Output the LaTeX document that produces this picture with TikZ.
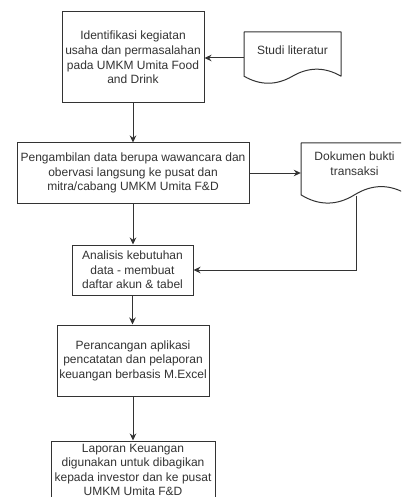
\documentclass[tikz,border=0pt]{standalone}
\usepackage{fontspec}
\setmainfont{Liberation Sans}
\usetikzlibrary{arrows.meta,calc}
\definecolor{ink}{HTML}{333333}
\definecolor{txt}{HTML}{333333}
\begin{document}
\begin{tikzpicture}[x=1pt,y=-1pt,
  box/.style={draw=ink,line width=1pt,fill=white,rectangle,inner sep=0pt,align=center,
    font=\fontsize{12}{14.6}\selectfont,text=txt},
  holder/.style={rectangle,inner sep=0pt,draw=none},
  lbl/.style={inner sep=0pt,align=center,font=\fontsize{12}{14.6}\selectfont,text=txt},
  docline/.style={draw=ink,line width=1pt,fill=white,line join=round},
  arr/.style={draw=ink,line width=1pt,-{Stealth[length=7pt,width=6.5pt]}}]
\useasboundingbox (0,0) rectangle (401,497);
\clip (0,0) rectangle (401,497);
\fill[white] (0,0) rectangle (401,497);

% boxes
\node[box,minimum width=142pt,minimum height=91pt] (b1) at (133,57.5)
  {Identifikasi kegiatan\\usaha dan permasalahan\\pada UMKM Umita Food\\and Drink};
\node[box,minimum width=232pt,minimum height=60pt] (b2) at (133,173)
  {Pengambilan data berupa wawancara dan\\obervasi langsung ke pusat dan\\mitra/cabang UMKM Umita F\&D};
\node[box,minimum width=121pt,minimum height=50pt] (b3) at (132.5,270)
  {Analisis kebutuhan\\data - membuat\\daftar akun \& tabel};
\node[box,minimum width=152pt,minimum height=71pt] (b4) at (133,360.5)
  {Perancangan aplikasi\\pencatatan dan pelaporan\\keuangan berbasis M.Excel};
\node[box,minimum width=164pt,minimum height=58pt,font=\fontsize{12}{14.2}\selectfont] (b5) at (133,470)
  {Laporan Keuangan\\digunakan untuk dibagikan\\kepada investor dan ke pusat\\UMKM Umita F\&D};

% document shape: Studi literatur
\draw[docline] (244,32) -- (341,32) -- (341,76.2)
  .. controls (324.83,66.84) and (308.67,66.84) .. (292.5,76.2)
  .. controls (276.33,85.56) and (260.17,85.56) .. (244,76.2) -- cycle;
\node[holder,minimum width=97pt,minimum height=52pt] (studi) at (292.5,58) {};
\node[lbl] (studitxt) at (292.5,50) {Studi literatur};

% document shape: Dokumen bukti transaksi
\draw[docline] (301,143) -- (408,143) -- (408,194.85)
  .. controls (390.17,183.87) and (372.33,183.87) .. (354.5,194.85)
  .. controls (336.67,205.83) and (318.83,205.83) .. (301,194.85) -- cycle;
\node[holder,minimum width=107pt,minimum height=61pt] (dok) at (354.5,173.5) {};
\node[lbl] (doktxt) at (354.5,163.5) {Dokumen bukti\\transaksi};
\coordinate (dokB) at (356,195.5);

% connectors
\draw[arr] (b1.south) -- (b1.south |- b2.north);
\draw[arr] (studi.west) -- (studi.west -| b1.east);
\draw[arr] (b2.east) -- (b2.east -| dok.west);
\draw[arr] (b2.south) -- (b2.south |- b3.north);
\draw[arr] (dokB) |- (b3.east);
\draw[arr] (b3.south) -- (b3.south |- b4.north);
\draw[arr] (b4.south) -- (b4.south |- b5.north);
\end{tikzpicture}
\end{document}
